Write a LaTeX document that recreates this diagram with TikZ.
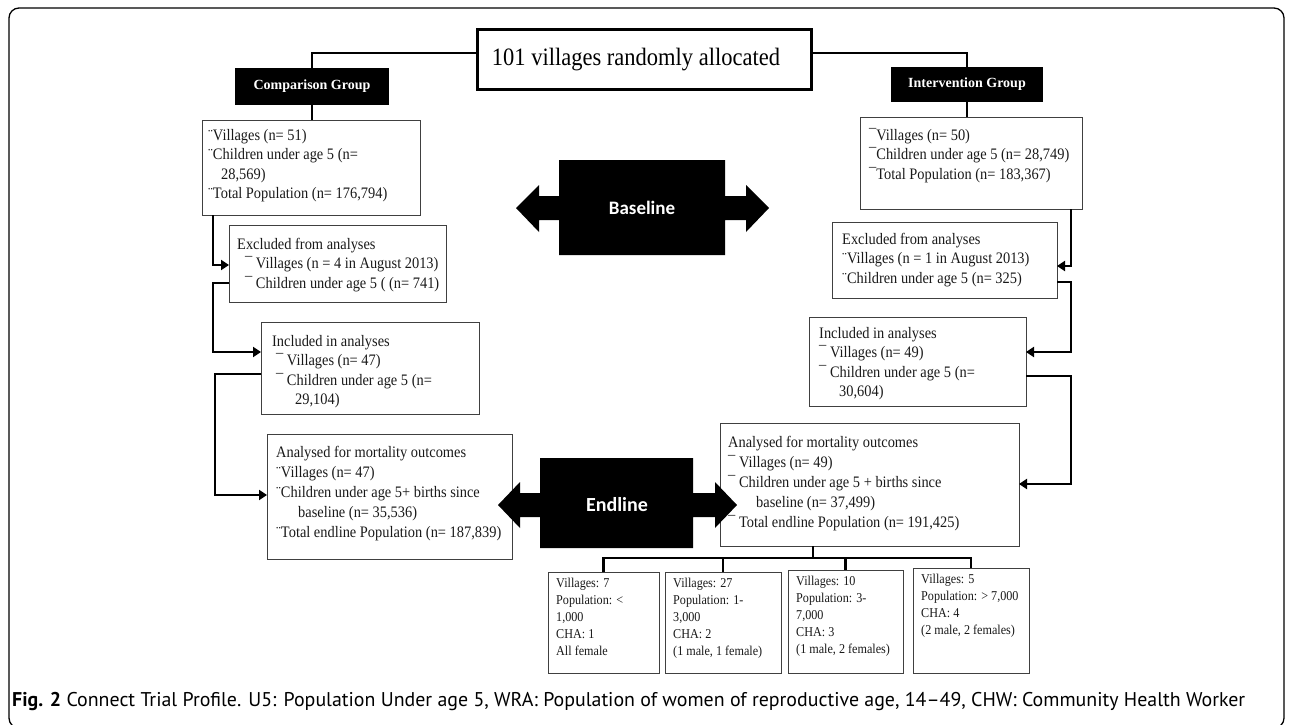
\documentclass[tikz,border=0pt]{standalone}
\usepackage{fontspec}
\setmainfont{Liberation Serif}
\newfontfamily\bodyfont[FakeStretch=0.9]{Liberation Serif}
\newfontfamily\capfont{PT Sans}
\newfontfamily\bigfont{Carlito}
\usetikzlibrary{arrows.meta,calc}
\begin{document}
\begin{tikzpicture}[x=1pt,y=-1pt,
  box/.style={draw=black!75, line width=0.9pt, anchor=north west, inner sep=0, outer sep=0},
  txt/.style={font=\bodyfont\fontsize{16}{19.5}\selectfont, align=left, anchor=north west, inner sep=0, text=black!90},
  txtb/.style={font=\bodyfont\fontsize{16}{20}\selectfont, align=left, anchor=north west, inner sep=0, text=black!90},
  small/.style={font=\bodyfont\fontsize{13.5}{17}\selectfont, align=left, anchor=north west, inner sep=0, text=black!90},
  conn/.style={line width=2.4pt, black},
  arr/.style={conn, -{Triangle[length=8pt,width=10pt]}},
  grp/.style={fill=black, text=white, font=\bfseries\fontsize{14}{16}\selectfont, anchor=north west, inner sep=0, outer sep=0},
  phase/.style={text=white, font=\bigfont\bfseries\fontsize{19}{22}\selectfont, inner sep=0}
]
\useasboundingbox (0,0) rectangle (1290,724);
% frame
\draw[line width=1.3pt, rounded corners=10pt] (9,8) rectangle (1284,728);

% top
\node[box, draw=black, line width=3pt, minimum width=334, minimum height=60] (top) at (477,29) {};
\node[font=\bodyfont\fontsize{25}{28}\selectfont, inner sep=0] (toptxt) at (636,60) {101 villages randomly allocated};

\node[grp, minimum width=154, minimum height=37] (cg) at (235,68) {Comparison Group};
\node[grp, minimum width=152, minimum height=35] (ig) at (891,67) {Intervention Group};

% left column
\node[box, minimum width=218, minimum height=95] (L1) at (202,120) {};
\node[txt] (L1t) at (208,129) {¨Villages (n= 51)\\¨Children under age 5 (n=\\\hspace*{13pt}28,569)\\¨Total Population (n= 176,794)};

\node[box, minimum width=217, minimum height=77] (LX) at (229,225) {};
\node[txt] (LXt) at (237,238) {Excluded from analyses\\\hspace*{8pt}¯ Villages (n = 4 in August 2013)\\\hspace*{8pt}¯ Children under age 5 ( (n= 741)};

\node[box, minimum width=218, minimum height=92] (LI) at (261,322) {};
\node[txt] (LIt) at (272,335) {Included in analyses\\\hspace*{4pt}¯ Villages (n= 47)\\\hspace*{4pt}¯ Children under age 5 (n=\\\hspace*{23pt}29,104)};

\node[box, minimum width=245, minimum height=125] (LA) at (267,434) {};
\node[txtb] (LAt) at (276,446) {Analysed for mortality outcomes\\¨Villages (n= 47)\\¨Children under age 5+ births since\\\hspace*{22pt}baseline (n= 35,536)\\¨Total endline Population (n= 187,839)};

% right column
\node[box, minimum width=222, minimum height=92] (R1) at (860,117) {};
\node[txt] (R1t) at (869,128) {¯Villages (n= 50)\\¯Children under age 5 (n= 28,749)\\¯Total Population (n= 183,367)};

\node[box, minimum width=225, minimum height=76] (RX) at (832,222) {};
\node[txt] (RXt) at (842,233) {Excluded from analyses\\¨Villages (n = 1 in August 2013)\\¨Children under age 5 (n= 325)};

\node[box, minimum width=217, minimum height=89] (RI) at (809,317) {};
\node[txt] (RIt) at (819,327) {Included in analyses\\¯ Villages (n= 49)\\¯ Children under age 5 (n=\\\hspace*{20pt}30,604)};

\node[box, minimum width=299, minimum height=123] (RA) at (720,423) {};
\node[txtb] (RAt) at (728,436) {Analysed for mortality outcomes\\¯ Villages (n= 49)\\¯ Children under age 5 + births since\\\hspace*{28pt}baseline (n= 37,499)\\¯ Total endline Population (n= 191,425)};

% bottom boxes
\node[box, minimum width=111, minimum height=101] (B1) at (548,572) {};
\node[small] (B1t) at (556,578) {Villages: 7\\Population: <\\1,000\\CHA: 1\\All female};
\node[box, minimum width=116, minimum height=101] (B2) at (665,572) {};
\node[small] (B2t) at (673,578) {Villages: 27\\Population: 1-\\3,000\\CHA: 2\\(1 male, 1 female)};
\node[box, minimum width=115, minimum height=103] (B3) at (788,570) {};
\node[small] (B3t) at (796,576) {Villages: 10\\Population: 3-\\7,000\\CHA: 3\\(1 male, 2 females)};
\node[box, minimum width=116, minimum height=105] (B4) at (913,568) {};
\node[small] (B4t) at (921,574) {Villages: 5\\Population: > 7,000\\CHA: 4\\(2 male, 2 females)};

% phase arrows
\fill (516,208) -- (539,185) -- (539,196) -- (559,196) -- (559,160) -- (725,160) -- (725,196) -- (746,196) -- (746,185) -- (769,208) -- (746,232) -- (746,220) -- (725,220) -- (725,255) -- (559,255) -- (559,220) -- (539,220) -- (539,232) -- cycle;
\node[phase] (bl) at (642,208) {Baseline};
\fill (498,505) -- (520,482) -- (520,493) -- (540,493) -- (540,458) -- (693,458) -- (693,493) -- (715,493) -- (715,482) -- (737,505) -- (715,528) -- (715,517) -- (693,517) -- (693,548) -- (540,548) -- (540,517) -- (520,517) -- (520,528) -- cycle;
\node[phase, font=\bigfont\bfseries\fontsize{20}{22}\selectfont] (el) at (617,505) {Endline};

% connectors top
\draw[conn] ($(top.north west)+(0,24)$) -| (cg.north);
\draw[conn] ($(top.north east)+(0,24)$) -| (ig.north);
\draw[conn] (cg.south) -- (cg.south |- L1.north);
\draw[conn] (ig.south) -- (ig.south |- R1.north);

% left connectors
\draw[arr] ($(L1.south west)+(11,0)$) |- ($(LX.north west)+(0,40)$);
\draw[arr] ($(LX.north west)+(0,58)$) -- ++(-16,0) |- ($(LI.north west)+(0,30)$);
\draw[arr] ($(LI.north west)+(0,52)$) -- ++(-46,0) |- ($(LA.north west)+(0,61)$);

% right connectors
\draw[arr] ($(R1.south east)+(-11,0)$) |- ($(RX.north east)+(0,44)$);
\draw[arr] ($(RX.north east)+(0,60)$) -- ++(14,0) |- ($(RI.north east)+(0,35)$);
\draw[arr] ($(RI.north east)+(0,59)$) -- ++(45,0) |- ($(RA.north east)+(0,61)$);

% bottom tree
\coordinate (bj) at ($(RA.south west)+(93,12)$);
\draw[conn] ($(RA.south west)+(93,0)$) -- (bj);
\draw[conn] (B1.north) -- (B1.north |- bj) -- (B4.north |- bj) -- (B4.north);
\draw[conn] (B2.north |- bj) -- (B2.north);
\draw[conn] (B3.north |- bj) -- (B3.north);

% caption
\node[anchor=west, inner sep=0] (cap) at (12,701) {\resizebox{1233pt}{!}{\capfont\fontsize{18}{20}\selectfont\textbf{Fig. 2} Connect Trial Profile. U5: Population Under age 5, WRA: Population of women of reproductive age, 14–49, CHW: Community Health Worker}};
\end{tikzpicture}
\end{document}
